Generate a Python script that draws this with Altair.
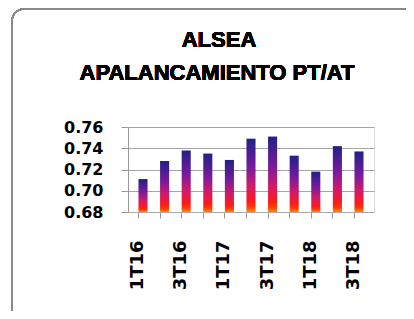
import altair as alt
import pandas as pd

quarters = ["1T16", "2T16", "3T16", "4T16", "1T17", "2T17", "3T17", "4T17", "1T18", "2T18", "3T18"]
ratio = [0.711, 0.728, 0.738, 0.735, 0.729, 0.749, 0.751, 0.733, 0.718, 0.742, 0.737]
shown_labels = ["1T16", "3T16", "1T17", "3T17", "1T18", "3T18"]
y_ticks = [0.68, 0.70, 0.72, 0.74, 0.76]
title_line1 = "ALSEA"
title_line2 = "APALANCAMIENTO PT/AT"

df = pd.DataFrame({"q": quarters, "v": ratio})

grad = alt.Gradient(
    gradient="linear",
    stops=[
        alt.GradientStop(offset=0, color="#22208a"),
        alt.GradientStop(offset=0.4, color="#7a1a9c"),
        alt.GradientStop(offset=0.65, color="#d01a6a"),
        alt.GradientStop(offset=0.86, color="#ff1a1a"),
        alt.GradientStop(offset=0.93, color="#ff3a00"),
        alt.GradientStop(offset=1, color="#ff8a00"),
    ],
    x1=0, x2=0, y1=0, y2=1,
)

label_expr = "indexof(" + str(shown_labels).replace("'", '"') + ", datum.value) >= 0 ? datum.value : ''"

bars = alt.Chart(df).mark_bar(color=grad).encode(
    x=alt.X(
        "q:N",
        sort=quarters,
        scale=alt.Scale(paddingInner=0.58, paddingOuter=0.485),
        axis=alt.Axis(
            title=None,
            labelAngle=-90,
            labelAlign="right",
            labelBaseline="middle",
            labelExpr=label_expr,
            labelFont="DejaVu Sans",
            labelFontWeight="bold",
            labelFontSize=18,
            labelColor="#000000",
            labelPadding=22,
            labelOffset=-5,
            bandPosition=0,
            tickSize=6,
            tickColor="#999999",
            domainColor="#aaaaaa",
            labelOverlap=False,
        ),
    ),
    y=alt.Y(
        "v:Q",
        scale=alt.Scale(domain=[0.68, 0.76], zero=False, nice=False),
        axis=alt.Axis(
            title=None,
            values=y_ticks,
            format=".2f",
            labelFont="DejaVu Sans",
            labelFontWeight="bold",
            labelFontSize=16,
            labelColor="#000000",
            labelPadding=18,
            tickSize=7,
            tickColor="#999999",
            domainColor="#999999",
            gridColor="#a5a5a5",
            gridWidth=1.2,
        ),
    ),
    y2=alt.datum(0.68),
)

border = alt.Chart(df).mark_rect(
    filled=False, stroke="#8a8a8a", strokeWidth=1.5, cornerRadius=12
).encode(
    x=alt.value(-116), x2=alt.value(300), y=alt.value(-118), y2=alt.value(200)
)

t1 = alt.Chart(df).mark_text(
    font="Liberation Sans", fontWeight="bold", fontSize=22, align="center",
    baseline="alphabetic", color="#000000"
).encode(x=alt.value(91), y=alt.value(-80), text=alt.value(title_line1))

t2 = alt.Chart(df).mark_text(
    font="Liberation Sans", fontWeight="bold", fontSize=22, align="center",
    baseline="alphabetic", color="#000000"
).encode(x=alt.value(89), y=alt.value(-47), text=alt.value(title_line2))

chart = alt.layer(border, t1, t2, bars).properties(
    width=246,
    height=85,
    autosize=alt.AutoSizeParams(type="none"),
    padding={"left": 120, "top": 119, "right": 32, "bottom": 99},
).configure_view(stroke=None).configure(background="white")

chart.save("out.html", embed_options={"renderer": "svg", "actions": False})
